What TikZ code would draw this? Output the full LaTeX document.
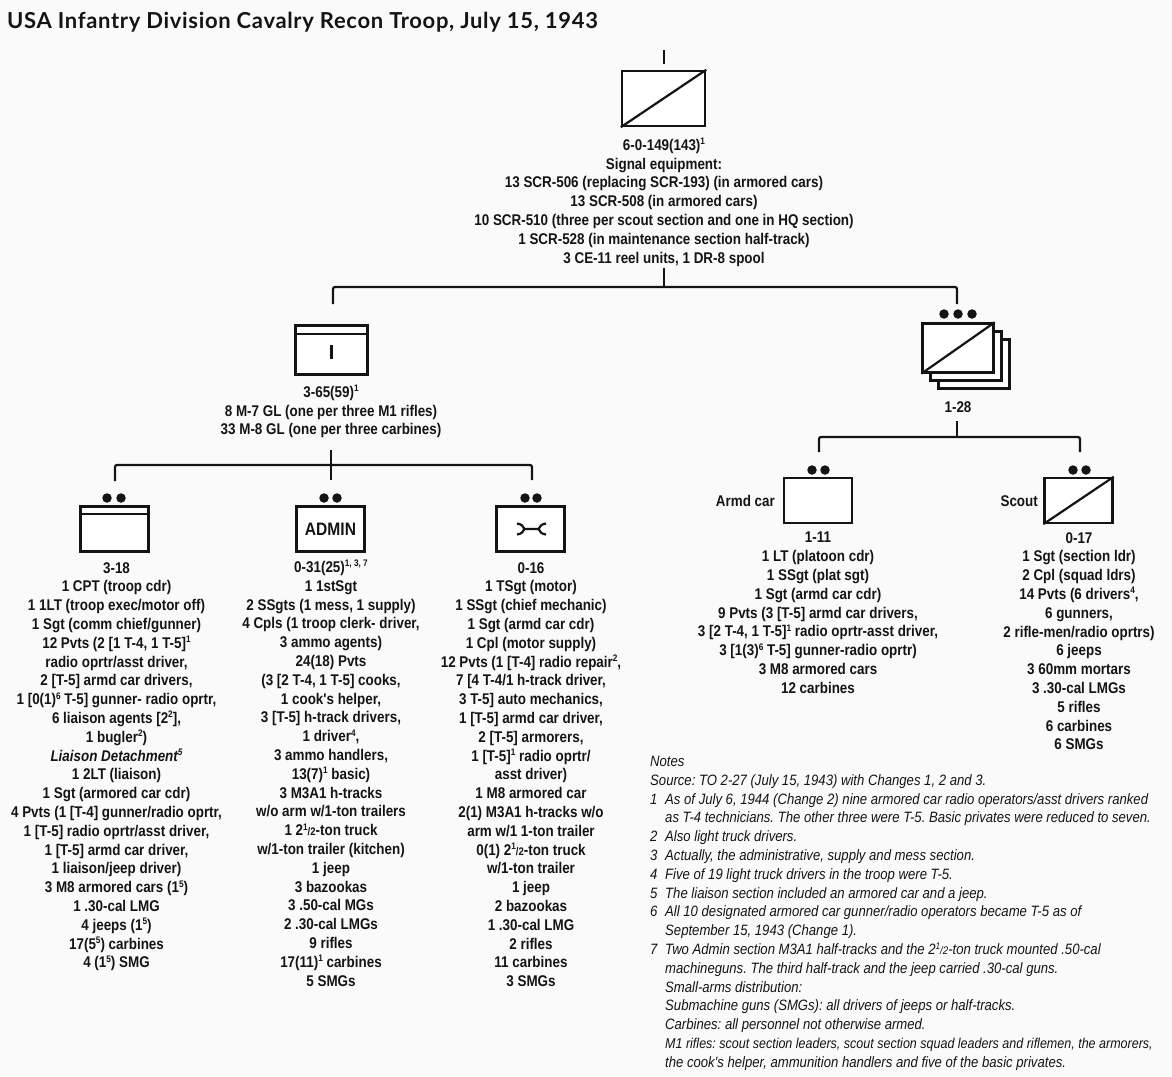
\documentclass[tikz,border=0pt]{standalone}
\usepackage{fontspec}
\usetikzlibrary{shadows}
\newfontfamily\unitfont[FakeStretch=0.865]{Liberation Sans}
\newfontfamily\notefont[FakeStretch=0.875]{Liberation Sans}
\newfontfamily\titlefont[LetterSpace=3]{Lato}
\newcommand{\supnote}[1]{\raisebox{.36em}{\fontsize{9.5}{9.5}\selectfont #1}}
\newcommand{\twohalf}{2\supnote{1}{\fontsize{11}{11}\selectfont/2}}
\definecolor{paper}{RGB}{251,250,251}
\definecolor{ink}{RGB}{20,20,22}
\begin{document}
\begin{tikzpicture}[x=1pt,y=-1pt,
  ink,
  unit box/.style={rectangle,draw=ink,fill=white,line width=2.4pt,inner sep=0pt,
    minimum width=#1,minimum height=45pt,
    general shadow={shadow xshift=1.2pt,shadow yshift=-1.2pt,fill=black,opacity=.16}},
  unit box/.default=68pt,
  dot/.style={circle,fill=ink,inner sep=0pt,minimum size=9.5pt},
  link/.style={line width=2.2pt,rounded corners=2pt},
  glyph/.style={line width=2.2pt},
  org text/.style={anchor=north,align=center,inner sep=0pt,
    font=\frenchspacing\unitfont\bfseries\fontsize{15.5}{18.8}\selectfont},
  side text/.style={inner sep=0pt,font=\unitfont\bfseries\fontsize{15.5}{18}\selectfont},
  note text/.style={anchor=north west,align=left,inner sep=0pt,
    font=\frenchspacing\notefont\itshape\fontsize{15}{18.8}\selectfont}]

  \useasboundingbox (0,0) rectangle (1172,1076);
  \fill[paper] (0,0) rectangle (1172,1076);

  \node[anchor=base west,inner sep=0pt,font=\titlefont\bfseries\fontsize{22}{26}\selectfont] (title) at (7,28)
    {USA Infantry Division Cavalry Recon Troop, July 15, 1943};

  \node[unit box=83pt,minimum height=55pt] (troop) at (663.5,98.5) {};
  \node[unit box=72pt,minimum height=49pt] (hq) at (331.5,350) {};
  \node[unit box=71pt,minimum height=49pt] (plat3) at (974,364) {};
  \node[unit box=71pt,minimum height=49pt] (plat2) at (966,356) {};
  \node[unit box=71pt,minimum height=49pt] (plat1) at (958,348) {};
  \node[unit box] (hqsec) at (114.5,529) {};
  \node[unit box,font=\unitfont\bfseries\fontsize{18}{18}\selectfont] (admin) at (330.5,529) {ADMIN};
  \node[unit box] (maint) at (530.5,529) {};
  \node[unit box] (armd) at (818,500.5) {};
  \node[unit box] (scout) at (1078.5,500.5) {};

  \node[dot] (d1) at (944,314) {};
  \node[dot] (d2) at (958,314) {};
  \node[dot] (d3) at (972,314) {};
  \node[dot] (d4) at (107,498) {};
  \node[dot] (d5) at (121,498) {};
  \node[dot] (d6) at (324,498) {};
  \node[dot] (d7) at (337,498) {};
  \node[dot] (d8) at (525,498) {};
  \node[dot] (d9) at (537,498) {};
  \node[dot] (d10) at (812,470) {};
  \node[dot] (d11) at (825,470) {};
  \node[dot] (d12) at (1073,470) {};
  \node[dot] (d13) at (1086,470) {};

  \node[side text,anchor=east] (armdlabel) at (775,501) {Armd car};
  \node[side text,anchor=east] (scoutlabel) at (1038,501) {Scout};

  \node[org text] (troopt) at (664,138) {6-0-149(143)\supnote{1}\\
    Signal equipment:\\
    13 SCR-506 (replacing SCR-193) (in armored cars)\\
    13 SCR-508 (in armored cars)\\
    10 SCR-510 (three per scout section and one in HQ section)\\
    1 SCR-528 (in maintenance section half-track)\\
    3 CE-11 reel units, 1 DR-8 spool};

  \node[org text] (hqt) at (331,385) {3-65(59)\supnote{1}\\
    8 M-7 GL (one per three M1 rifles)\\
    33 M-8 GL (one per three carbines)};

  \node[org text] (platt) at (958,401) {1-28};

  \node[org text] (hqsect) at (116.5,562) {3-18\\
    1 CPT (troop cdr)\\
    1 1LT (troop exec/motor off)\\
    1 Sgt (comm chief/gunner)\\
    12 Pvts (2 [1 T-4, 1 T-5]\supnote{1}\\
    radio oprtr/asst driver,\\
    2 [T-5] armd car drivers,\\
    1 [0(1)\supnote{6} T-5] gunner- radio oprtr,\\
    6 liaison agents [2\supnote{2}],\\
    1 bugler\supnote{2})\\
    \itshape Liaison Detachment\supnote{5}\\
    1 2LT (liaison)\\
    1 Sgt (armored car cdr)\\
    4 Pvts (1 [T-4] gunner/radio oprtr,\\
    1 [T-5] radio oprtr/asst driver,\\
    1 [T-5] armd car driver,\\
    1 liaison/jeep driver)\\
    3 M8 armored cars (1\supnote{5})\\
    1 .30-cal LMG\\
    4 jeeps (1\supnote{5})\\
    17(5\supnote{5}) carbines\\
    4 (1\supnote{5}) SMG};

  \node[org text] (admint) at (331,560) {0-31(25)\supnote{1, 3, 7}\\
    1 1stSgt\\
    2 SSgts (1 mess, 1 supply)\\
    4 Cpls (1 troop clerk- driver,\\
    3 ammo agents)\\
    24(18) Pvts\\
    (3 [2 T-4, 1 T-5] cooks,\\
    1 cook's helper,\\
    3 [T-5] h-track drivers,\\
    1 driver\supnote{4},\\
    3 ammo handlers,\\
    13(7)\supnote{1} basic)\\
    3 M3A1 h-tracks\\
    w/o arm w/1-ton trailers\\
    1 \twohalf-ton truck\\
    w/1-ton trailer (kitchen)\\
    1 jeep\\
    3 bazookas\\
    3 .50-cal MGs\\
    2 .30-cal LMGs\\
    9 rifles\\
    17(11)\supnote{1} carbines\\
    5 SMGs};

  \node[org text] (maintt) at (531,562) {0-16\\
    1 TSgt (motor)\\
    1 SSgt (chief mechanic)\\
    1 Sgt (armd car cdr)\\
    1 Cpl (motor supply)\\
    12 Pvts (1 [T-4] radio repair\supnote{2},\\
    7 [4 T-4/1 h-track driver,\\
    3 T-5] auto mechanics,\\
    1 [T-5] armd car driver,\\
    2 [T-5] armorers,\\
    1 [T-5]\supnote{1} radio oprtr/\\
    asst driver)\\
    1 M8 armored car\\
    2(1) M3A1 h-tracks w/o\\
    arm w/1 1-ton trailer\\
    0(1) \twohalf-ton truck\\
    w/1-ton trailer\\
    1 jeep\\
    2 bazookas\\
    1 .30-cal LMG\\
    2 rifles\\
    11 carbines\\
    3 SMGs};

  \node[org text] (armdt) at (818,532) {1-11\\
    1 LT (platoon cdr)\\
    1 SSgt (plat sgt)\\
    1 Sgt (armd car cdr)\\
    9 Pvts (3 [T-5] armd car drivers,\\
    3 [2 T-4, 1 T-5]\supnote{1} radio oprtr-asst driver,\\
    3 [1(3)\supnote{6} T-5] gunner-radio oprtr)\\
    3 M8 armored cars\\
    12 carbines};

  \node[org text] (scoutt) at (1079,532) {0-17\\
    1 Sgt (section ldr)\\
    2 Cpl (squad ldrs)\\
    14 Pvts (6 drivers\supnote{4},\\
    6 gunners,\\
    2 rifle-men/radio oprtrs)\\
    6 jeeps\\
    3 60mm mortars\\
    3 .30-cal LMGs\\
    5 rifles\\
    6 carbines\\
    6 SMGs};

  \node[note text] (notes) at (650,756) {Notes\\
    Source: TO 2-27 (July 15, 1943) with Changes 1, 2 and 3.\\
    \makebox[15pt][l]{1}As of July 6, 1944 (Change 2) nine armored car radio operators/asst drivers ranked\\
    \makebox[15pt]{}as T-4 technicians. The other three were T-5. Basic privates were reduced to seven.\\
    \makebox[15pt][l]{2}Also light truck drivers.\\
    \makebox[15pt][l]{3}Actually, the administrative, supply and mess section.\\
    \makebox[15pt][l]{4}Five of 19 light truck drivers in the troop were T-5.\\
    \makebox[15pt][l]{5}The liaison section included an armored car and a jeep.\\
    \makebox[15pt][l]{6}All 10 designated armored car gunner/radio operators became T-5 as of\\
    \makebox[15pt]{}September 15, 1943 (Change 1).\\
    \makebox[15pt][l]{7}Two Admin section M3A1 half-tracks and the \twohalf-ton truck mounted .50-cal\\
    \makebox[15pt]{}machineguns. The third half-track and the jeep carried .30-cal guns.\\
    \makebox[15pt]{}Small-arms distribution:\\
    \makebox[15pt]{}Submachine guns (SMGs): all drivers of jeeps or half-tracks.\\
    \makebox[15pt]{}Carbines: all personnel not otherwise armed.\\
    \makebox[15pt]{}{\fontsize{14.3}{18.8}\selectfont M1 rifles: scout section leaders, scout section squad leaders and riflemen, the armorers,}\\
    \makebox[15pt]{}the cook's helper, ammunition handlers and five of the basic privates.};

  \coordinate (tick top) at (664,50);
  \coordinate (tick foot) at (664,64);
  \coordinate (troop foot) at (664,268);
  \coordinate (troop joint) at (664,287);
  \coordinate (hq head) at (333,304);
  \coordinate (plat head) at (957,304);
  \coordinate (hq foot) at (331,450);
  \coordinate (hq joint) at (331,465);
  \coordinate (admin head) at (331,480);
  \coordinate (hqsec head) at (115,481);
  \coordinate (maint head) at (532,480);
  \coordinate (plat foot) at (957,421);
  \coordinate (plat joint) at (957,437);
  \coordinate (armd head) at (819,452);
  \coordinate (scout head) at (1080,452);

  \draw[link] (tick top) -- (tick foot);
  \draw[link] (troop foot) -- (troop joint);
  \draw[link] (hq head) |- (troop joint) -| (plat head);
  \draw[link] (hq foot) -- (admin head);
  \draw[link] (hqsec head) |- (hq joint) -| (maint head);
  \draw[link] (plat foot) -- (plat joint);
  \draw[link] (armd head) |- (plat joint) -| (scout head);

  \draw[glyph] (troop.south west) -- (troop.north east);
  \draw[glyph] (plat1.south west) -- (plat1.north east);
  \draw[glyph] (scout.south west) -- (scout.north east);
  \draw[glyph] ([yshift=-10pt]hq.north west) -- ([yshift=-10pt]hq.north east);
  \draw[glyph] ([yshift=-9pt]hqsec.north west) -- ([yshift=-9pt]hqsec.north east);
  \draw[glyph] ([yshift=5pt]hq.center) -- ([yshift=-9pt]hq.center);
  \draw[glyph,shift={(maint.center)}] (-13.5,-5.5) .. controls (-9,-5) and (-7,-2.5) .. (-6,0) -- (8,0)
    .. controls (9,-2.5) and (11,-5) .. (15.5,-5.5);
  \draw[glyph,shift={(maint.center)}] (-13.5,5.5) .. controls (-9,5) and (-7,2.5) .. (-6,0);
  \draw[glyph,shift={(maint.center)}] (15.5,5.5) .. controls (11,5) and (9,2.5) .. (8,0);
\end{tikzpicture}
\end{document}
